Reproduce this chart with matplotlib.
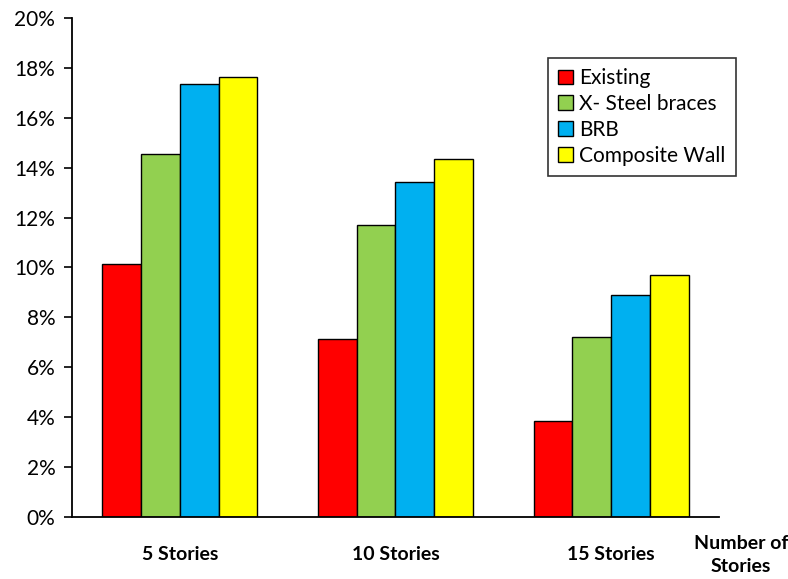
import numpy as np
import matplotlib.pyplot as plt
from matplotlib.ticker import PercentFormatter

plt.rcParams['font.family'] = ['Lato', 'DejaVu Sans']

groups = ["5 Stories", "10 Stories", "15 Stories"]
series = ["Existing", "X- Steel braces", "BRB", "Composite Wall"]
existing = [10.15, 7.14, 3.86]
steel_braces = [14.56, 11.70, 7.23]
brb = [17.37, 13.44, 8.88]
composite_wall = [17.65, 14.35, 9.69]
colors = ["#FF0000", "#92D050", "#00B0F0", "#FFFF00"]


def main():
    fig = plt.figure(figsize=(7.88, 5.79), dpi=100)
    ax = fig.add_axes([0.0914, 0.1071, 0.821, 0.862])

    x = np.arange(len(groups))
    width = 0.18
    values = [existing, steel_braces, brb, composite_wall]
    for i, (name, vals, c) in enumerate(zip(series, values, colors)):
        ax.bar(x + (i - 1.5) * width, vals, width, color=c, edgecolor="black",
               linewidth=1.0, label=name)

    # axes
    ax.set_xlim(-0.5, 2.5)
    ax.set_ylim(0, 20)
    ax.set_yticks(np.arange(0, 21, 2))
    ax.yaxis.set_major_formatter(PercentFormatter(decimals=0))
    ax.tick_params(axis="y", direction="out", length=6, width=1.2,
                   labelsize=15, pad=6)
    ax.set_xticks(x)
    ax.set_xticklabels(groups, fontsize=14, fontweight="bold")
    ax.tick_params(axis="x", length=0, pad=21)
    ax.spines["top"].set_visible(False)
    ax.spines["right"].set_visible(False)
    for s in ("left", "bottom"):
        ax.spines[s].set_linewidth(1.3)

    fig.text(0.94, 0.042, "Number of\nStories", ha="center", va="center",
             fontsize=14, fontweight="bold", linespacing=1.45)

    leg = ax.legend(loc="upper right", bbox_to_anchor=(1.026, 0.92),
                    fontsize=15, frameon=True, fancybox=False,
                    handlelength=0.7, handleheight=0.7, handletextpad=0.3,
                    labelspacing=0.28, borderpad=0.5, borderaxespad=0)
    leg.get_frame().set_edgecolor("black")
    leg.get_frame().set_linewidth(1.2)

    fig.savefig("out.png", dpi=100)


if __name__ == "__main__":
    main()
